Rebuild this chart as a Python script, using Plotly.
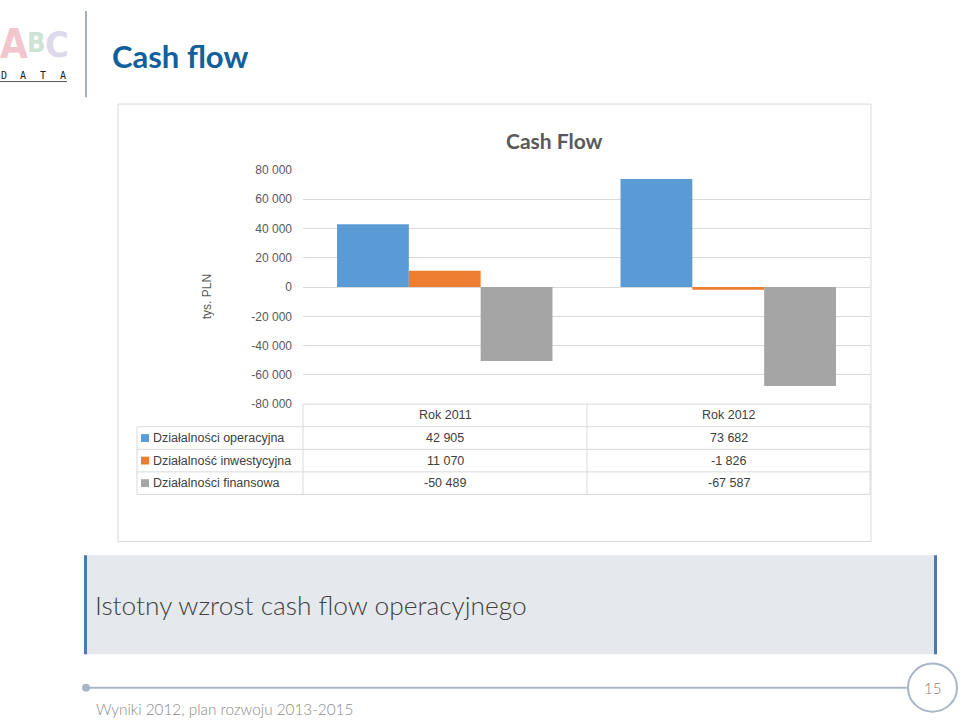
import plotly.graph_objects as go

# ---- data ----
categories = ["Rok 2011", "Rok 2012"]
series_names = ["Działalności operacyjna", "Działalność inwestycyjna", "Działalności finansowa"]
operacyjna = [42905, 73682]
inwestycyjna = [11070, -1826]
finansowa = [-50489, -67587]
series_values = [operacyjna, inwestycyjna, finansowa]
colors = ["#5b9bd5", "#ed7d31", "#a5a5a5"]
tick_vals = [80000, 60000, 40000, 20000, 0, -20000, -40000, -60000, -80000]
tick_text = ["80 000", "60 000", "40 000", "20 000", "0", "-20 000", "-40 000", "-60 000", "-80 000"]

W, H = 960, 727
def px(x):
    return x / W
def py(y):
    return 1 - y / H

def fmt(v):
    s = f"{abs(v):,}".replace(",", " ")
    return ("-" if v < 0 else "") + s

fig = go.Figure()
for name, vals, c in zip(series_names, series_values, colors):
    fig.add_trace(go.Bar(x=categories, y=vals, name=name, marker=dict(color=c, line=dict(width=0)),
                         showlegend=False))

shapes = []
annotations = []
GRID = "#d9d9d9"

# chart frame
shapes.append(dict(type="rect", xref="paper", yref="paper", x0=px(118), x1=px(871), y0=py(545), y1=py(99),
                   line=dict(color="#d9d9d9", width=1), fillcolor="white", layer="below"))

# data table grid
xl, xa, xm, xr = 137, 303, 587, 870
rows_y = [405, 428, 451, 474, 497]
shapes.append(dict(type="line", xref="paper", yref="paper", x0=px(xa), x1=px(xr), y0=py(405), y1=py(405), line=dict(color=GRID, width=1)))
for yy in rows_y[1:]:
    shapes.append(dict(type="line", xref="paper", yref="paper", x0=px(xl), x1=px(xr), y0=py(yy), y1=py(yy), line=dict(color=GRID, width=1)))
for xx in [xa, xm, xr]:
    shapes.append(dict(type="line", xref="paper", yref="paper", x0=px(xx), x1=px(xx), y0=py(405), y1=py(497), line=dict(color=GRID, width=1)))
shapes.append(dict(type="line", xref="paper", yref="paper", x0=px(xl), x1=px(xl), y0=py(428), y1=py(497), line=dict(color=GRID, width=1)))

tfont = dict(family="Liberation Sans, Arial, sans-serif", size=12.5, color="#404040")
col_centers = [(xa + xm) / 2, (xm + xr) / 2]
for cx, cat in zip(col_centers, categories):
    annotations.append(dict(xref="paper", yref="paper", x=px(cx), y=py(416.5), text=cat, showarrow=False,
                            xanchor="center", yanchor="middle", font=tfont))
for i, (name, vals, c) in enumerate(zip(series_names, series_values, colors)):
    yc = (rows_y[i + 1] + rows_y[i + 2]) / 2
    shapes.append(dict(type="rect", xref="paper", yref="paper", x0=px(141), x1=px(149), y0=py(yc + 4), y1=py(yc - 4),
                       fillcolor=c, line=dict(width=0)))
    annotations.append(dict(xref="paper", yref="paper", x=px(151), y=py(yc), text=name, showarrow=False,
                            xanchor="left", yanchor="middle", font=tfont))
    for cx, v in zip(col_centers, vals):
        annotations.append(dict(xref="paper", yref="paper", x=px(cx), y=py(yc), text=fmt(v), showarrow=False,
                                xanchor="center", yanchor="middle", font=tfont))

# chart title and axis title
annotations.append(dict(xref="paper", yref="paper", x=px(554), y=py(136), text="<b>Cash Flow</b>", showarrow=False,
                        xanchor="center", yanchor="middle",
                        font=dict(family="Lato, Open Sans, sans-serif", size=21, color="#595959")))
annotations.append(dict(xref="paper", yref="paper", x=px(207), y=py(296), text="tys. PLN", showarrow=False,
                        textangle=-90, xanchor="center", yanchor="middle",
                        font=dict(family="Liberation Sans, Arial, sans-serif", size=12, color="#595959")))

# ---- slide decoration ----
logo_font = "DejaVu Sans Condensed, Liberation Sans Narrow, sans-serif"
annotations.append(dict(xref="paper", yref="paper", x=px(14), y=py(38), text="<b>A</b>", showarrow=False,
                        xanchor="center", yanchor="middle",
                        font=dict(family=logo_font, size=40, color="#f3c5cc")))
annotations.append(dict(xref="paper", yref="paper", x=px(36), y=py(36), text="<b>B</b>", showarrow=False,
                        xanchor="center", yanchor="middle",
                        font=dict(family=logo_font, size=27, color="#cfe2d6")))
annotations.append(dict(xref="paper", yref="paper", x=px(57), y=py(38), text="<b>C</b>", showarrow=False,
                        xanchor="center", yanchor="middle",
                        font=dict(family=logo_font, size=36, color="#ddd9ea")))
for i, ch in enumerate("DATA"):
    annotations.append(dict(xref="paper", yref="paper", x=px(3.5 + i * 19.7), y=py(70), text=ch, showarrow=False,
                            xanchor="center", yanchor="middle",
                            font=dict(family="DejaVu Sans Mono, monospace", size=10, color="#222222")))
shapes.append(dict(type="line", xref="paper", yref="paper", x0=px(0), x1=px(67), y0=py(76), y1=py(76),
                   line=dict(color="#555555", width=1)))
shapes.append(dict(type="line", xref="paper", yref="paper", x0=px(86), x1=px(86), y0=py(4), y1=py(92),
                   line=dict(color="#a6b0bf", width=2)))
annotations.append(dict(xref="paper", yref="paper", x=px(110), y=py(50), text="<b>Cash flow</b>", showarrow=False,
                        xanchor="left", yanchor="middle",
                        font=dict(family="Lato, Open Sans, sans-serif", size=31, color="#11609b")))

# grey comment box
shapes.append(dict(type="rect", xref="paper", yref="paper", x0=px(84), x1=px(937), y0=py(660), y1=py(559),
                   fillcolor="#e5e9ed", line=dict(width=0)))
for xx in [85.5, 935.5]:
    shapes.append(dict(type="line", xref="paper", yref="paper", x0=px(xx), x1=px(xx), y0=py(660), y1=py(559),
                       line=dict(color="#4a7ab4", width=3)))
annotations.append(dict(xref="paper", yref="paper", x=px(93), y=py(610), text="Istotny wzrost cash flow operacyjnego",
                        showarrow=False, xanchor="left", yanchor="middle",
                        font=dict(family="Lato Light, Lato, Open Sans, sans-serif", size=26.3, color="#404040")))

# footer
shapes.append(dict(type="line", xref="paper", yref="paper", x0=px(86), x1=px(908), y0=py(694), y1=py(694),
                   line=dict(color="#a9b6c7", width=2)))
shapes.append(dict(type="circle", xref="paper", yref="paper", x0=px(82), x1=px(90), y0=py(698), y1=py(690),
                   fillcolor="#a9b6c7", line=dict(width=0)))
shapes.append(dict(type="circle", xref="paper", yref="paper", x0=px(908), x1=px(957), y0=py(718.5), y1=py(669.5),
                   fillcolor="white", line=dict(color="#a9b6c7", width=2)))
annotations.append(dict(xref="paper", yref="paper", x=px(932.5), y=py(694), text="15", showarrow=False,
                        xanchor="center", yanchor="middle",
                        font=dict(family="Lato Light, Lato, Open Sans, sans-serif", size=15, color="#7f7f7f")))
annotations.append(dict(xref="paper", yref="paper", x=px(94), y=py(716), text="Wyniki 2012, plan rozwoju 2013-2015",
                        showarrow=False, xanchor="left", yanchor="middle",
                        font=dict(family="Lato Light, Lato, Open Sans, sans-serif", size=15.3, color="#8a8a8a")))

fig.update_layout(
    width=W, height=H, autosize=False,
    margin=dict(l=0, r=0, t=0, b=0, pad=0),
    paper_bgcolor="white", plot_bgcolor="white",
    barmode="group", bargap=0.24, bargroupgap=0,
    shapes=shapes, annotations=annotations,
    xaxis=dict(domain=[px(303), px(870)], showticklabels=False, showgrid=False, zeroline=False,
               showline=False, fixedrange=True),
    yaxis=dict(domain=[py(405), py(166)], range=[-80000, 80000], tickvals=tick_vals, ticktext=tick_text,
               showgrid=True, gridcolor=GRID, gridwidth=1, zeroline=True, zerolinecolor=GRID, zerolinewidth=1,
               showline=False, ticks="", ticklabelstandoff=10,
               tickfont=dict(family="Liberation Sans, Arial, sans-serif", size=12, color="#595959")),
)

fig.write_html("out.html")
